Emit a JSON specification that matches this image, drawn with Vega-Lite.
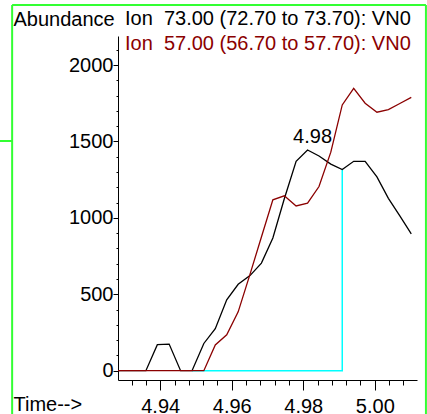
{
  "$schema": "https://vega.github.io/schema/vega-lite/v6.json",
  "width": 299,
  "height": 344,
  "autosize": {"type": "none"},
  "padding": {"left": 118, "top": 36, "right": 10, "bottom": 34},
  "background": "#ffffff",
  "view": {"stroke": null},
  "config": {
    "font": "Liberation Sans",
    "axis": {
      "grid": false,
      "domainColor": "#000000",
      "tickColor": "#000000",
      "labelColor": "#000000",
      "labelFont": "Liberation Sans",
      "labelFontSize": 20,
      "titleFont": "Liberation Sans",
      "titleFontSize": 20,
      "titleFontWeight": "normal",
      "titleColor": "#000000"
    }
  },
  "title": {
    "text": "Ion \u00a073.00 (72.70 to 73.70): VN0",
    "subtitle": "Ion \u00a057.00 (56.70 to 57.70): VN0",
    "anchor": "start",
    "frame": "group",
    "orient": "top",
    "offset": 0,
    "dx": 7,
    "dy": 50,
    "font": "Liberation Sans",
    "fontSize": 20,
    "fontWeight": "normal",
    "color": "#000000",
    "subtitleFont": "Liberation Sans",
    "subtitleFontSize": 20,
    "subtitleColor": "#8b0000",
    "subtitlePadding": 5
  },
  "datasets": {
    "scans": [
      {"time": 4.9263, "ion": "73", "abundance": 0},
      {"time": 4.9296, "ion": "73", "abundance": 0},
      {"time": 4.9328, "ion": "73", "abundance": 0},
      {"time": 4.9360, "ion": "73", "abundance": 0},
      {"time": 4.9392, "ion": "73", "abundance": 170},
      {"time": 4.9425, "ion": "73", "abundance": 174},
      {"time": 4.9457, "ion": "73", "abundance": 0},
      {"time": 4.9489, "ion": "73", "abundance": 0},
      {"time": 4.9522, "ion": "73", "abundance": 178},
      {"time": 4.9554, "ion": "73", "abundance": 275},
      {"time": 4.9586, "ion": "73", "abundance": 464},
      {"time": 4.9618, "ion": "73", "abundance": 565},
      {"time": 4.9651, "ion": "73", "abundance": 622},
      {"time": 4.9683, "ion": "73", "abundance": 704},
      {"time": 4.9715, "ion": "73", "abundance": 868},
      {"time": 4.9747, "ion": "73", "abundance": 1125},
      {"time": 4.9780, "ion": "73", "abundance": 1370},
      {"time": 4.9812, "ion": "73", "abundance": 1444},
      {"time": 4.9844, "ion": "73", "abundance": 1405},
      {"time": 4.9877, "ion": "73", "abundance": 1352},
      {"time": 4.9909, "ion": "73", "abundance": 1316},
      {"time": 4.9941, "ion": "73", "abundance": 1370},
      {"time": 4.9973, "ion": "73", "abundance": 1370},
      {"time": 5.0006, "ion": "73", "abundance": 1268},
      {"time": 5.0038, "ion": "73", "abundance": 1128},
      {"time": 5.0070, "ion": "73", "abundance": 1013},
      {"time": 5.0102, "ion": "73", "abundance": 895},
      {"time": 4.9263, "ion": "57", "abundance": 0},
      {"time": 4.9296, "ion": "57", "abundance": 0},
      {"time": 4.9328, "ion": "57", "abundance": 0},
      {"time": 4.9360, "ion": "57", "abundance": 0},
      {"time": 4.9392, "ion": "57", "abundance": 0},
      {"time": 4.9425, "ion": "57", "abundance": 0},
      {"time": 4.9457, "ion": "57", "abundance": 0},
      {"time": 4.9489, "ion": "57", "abundance": 0},
      {"time": 4.9522, "ion": "57", "abundance": 0},
      {"time": 4.9554, "ion": "57", "abundance": 168},
      {"time": 4.9586, "ion": "57", "abundance": 235},
      {"time": 4.9618, "ion": "57", "abundance": 385},
      {"time": 4.9651, "ion": "57", "abundance": 630},
      {"time": 4.9683, "ion": "57", "abundance": 875},
      {"time": 4.9715, "ion": "57", "abundance": 1118},
      {"time": 4.9747, "ion": "57", "abundance": 1144},
      {"time": 4.9780, "ion": "57", "abundance": 1078},
      {"time": 4.9812, "ion": "57", "abundance": 1096},
      {"time": 4.9844, "ion": "57", "abundance": 1205},
      {"time": 4.9877, "ion": "57", "abundance": 1430},
      {"time": 4.9909, "ion": "57", "abundance": 1739},
      {"time": 4.9941, "ion": "57", "abundance": 1848},
      {"time": 4.9973, "ion": "57", "abundance": 1750},
      {"time": 5.0006, "ion": "57", "abundance": 1691},
      {"time": 5.0038, "ion": "57", "abundance": 1708},
      {"time": 5.0070, "ion": "57", "abundance": 1748},
      {"time": 5.0102, "ion": "57", "abundance": 1788}
    ],
    "baseline": [
      {"time": 4.9489, "abundance": 0, "step": 1},
      {"time": 4.9909, "abundance": 0, "step": 2},
      {"time": 4.9909, "abundance": 1316, "step": 3}
    ],
    "peaks": [
      {"time": 4.9812, "abundance": 1444, "label": "4.98"}
    ]
  },
  "resolve": {"scale": {"x": "independent", "y": "independent"}},
  "layer": [
    {
      "layer": [
        {
          "data": {"values": [{}]},
          "mark": {"type": "rule", "color": "#33ff33", "strokeWidth": 2, "clip": false},
          "encoding": {
            "x": {"datum": 4.8986, "type": "quantitative"},
            "y": {"datum": -400, "type": "quantitative"},
            "y2": {"datum": 2393}
          }
        },
        {
          "data": {"values": [{}]},
          "mark": {"type": "rule", "color": "#33ff33", "strokeWidth": 2, "clip": false},
          "encoding": {
            "x": {"datum": 4.8986, "type": "quantitative"},
            "x2": {"datum": 5.0143},
            "y": {"datum": 2393, "type": "quantitative"}
          }
        },
        {
          "data": {"values": [{}]},
          "mark": {"type": "rule", "color": "#33ff33", "strokeWidth": 2, "clip": false},
          "encoding": {
            "x": {"datum": 5.0143, "type": "quantitative"},
            "y": {"datum": -400, "type": "quantitative"},
            "y2": {"datum": 2393}
          }
        },
        {
          "data": {"values": [{}]},
          "mark": {"type": "rule", "color": "#33ff33", "strokeWidth": 2, "clip": false},
          "encoding": {
            "x": {"datum": 4.8952, "type": "quantitative"},
            "x2": {"datum": 4.8986},
            "y": {"datum": 1503, "type": "quantitative"}
          }
        },
        {
          "data": {"name": "baseline"},
          "mark": {"type": "line", "color": "#00ffff", "strokeWidth": 1.5, "clip": true},
          "encoding": {
            "x": {"field": "time", "type": "quantitative"},
            "y": {"field": "abundance", "type": "quantitative"},
            "order": {"field": "step"}
          }
        },
        {
          "data": {"name": "scans"},
          "transform": [{"filter": "datum.ion === '73'"}],
          "mark": {"type": "line", "color": "#000000", "strokeWidth": 1.3, "clip": true},
          "encoding": {
            "x": {
              "field": "time",
              "type": "quantitative",
              "scale": {"domain": [4.9282, 5.0118], "nice": false, "zero": false},
              "axis": {
                "values": [4.94, 4.96, 4.98, 5.0],
                "format": ".2f",
                "labelOverlap": false,
                "labelFlush": false,
                "tickSize": 10,
                "labelPadding": 6,
                "title": "Time-->",
                "titleAngle": 0,
                "titleAlign": "left",
                "titleBaseline": "alphabetic",
                "titleX": -105,
                "titleY": 30
              }
            },
            "y": {
              "field": "abundance",
              "type": "quantitative",
              "scale": {"domain": [-61, 2190], "nice": false, "zero": false},
              "axis": {
                "values": [0, 500, 1000, 1500, 2000],
                "format": "d",
                "labelOverlap": false,
                "labelFlush": false,
                "tickSize": 5,
                "labelPadding": 0,
                "title": "Abundance",
                "titleAngle": 0,
                "titleAlign": "left",
                "titleBaseline": "alphabetic",
                "titleX": -105,
                "titleY": -11
              }
            }
          }
        },
        {
          "data": {"name": "scans"},
          "transform": [{"filter": "datum.ion === '57'"}],
          "mark": {"type": "line", "color": "#8b0000", "strokeWidth": 1.3, "clip": true},
          "encoding": {
            "x": {"field": "time", "type": "quantitative"},
            "y": {"field": "abundance", "type": "quantitative"}
          }
        },
        {
          "data": {"name": "peaks"},
          "mark": {"type": "text", "fontSize": 20, "color": "#000000", "align": "center", "baseline": "alphabetic", "dx": 5, "dy": -7},
          "encoding": {
            "x": {"field": "time", "type": "quantitative"},
            "y": {"field": "abundance", "type": "quantitative"},
            "text": {"field": "label"}
          }
        }
      ]
    },
    {
      "data": {"values": [{}]},
      "mark": {"type": "point", "opacity": 0},
      "encoding": {
        "x": {
          "datum": 4.97,
          "type": "quantitative",
          "scale": {"domain": [4.9282, 5.0118], "nice": false, "zero": false},
          "axis": {
            "orient": "bottom",
            "values": [4.932, 4.936, 4.944, 4.948, 4.952, 4.956, 4.964, 4.968, 4.972, 4.976, 4.984, 4.988, 4.992, 4.996, 5.004, 5.008],
            "labels": false,
            "domain": false,
            "tickSize": 5,
            "title": null
          }
        },
        "y": {
          "datum": 1000,
          "type": "quantitative",
          "scale": {"domain": [-61, 2190], "nice": false, "zero": false},
          "axis": {
            "orient": "left",
            "values": [100, 200, 300, 400, 600, 700, 800, 900, 1100, 1200, 1300, 1400, 1600, 1700, 1800, 1900, 2100],
            "labels": false,
            "domain": false,
            "tickSize": 2,
            "title": null
          }
        }
      }
    }
  ]
}
